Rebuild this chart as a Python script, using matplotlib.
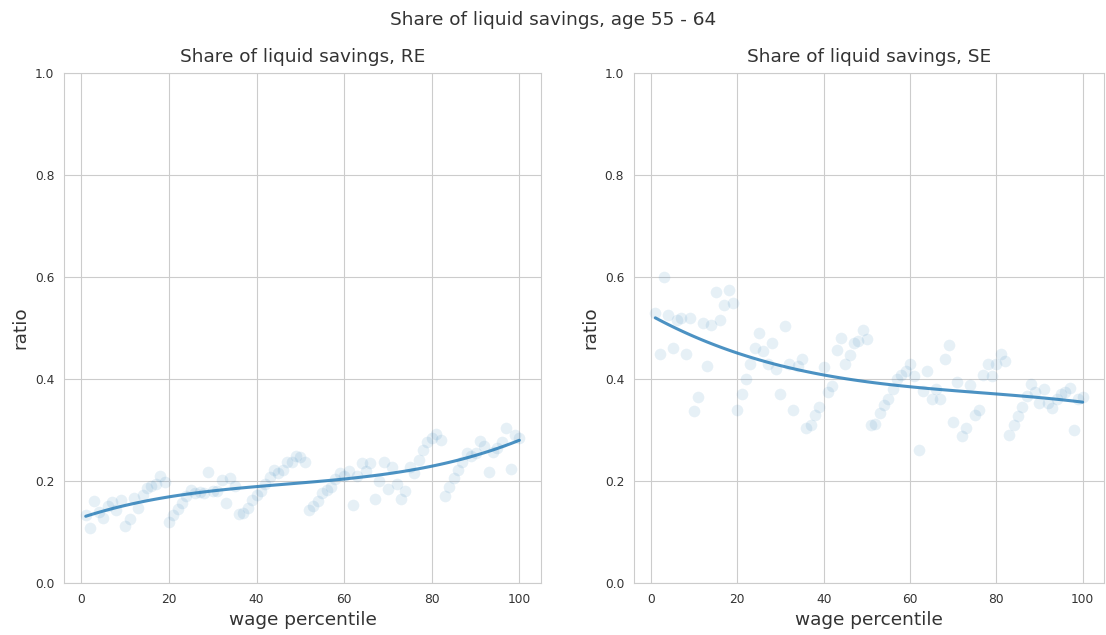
import numpy as np
import matplotlib
matplotlib.use("Agg")
import matplotlib.pyplot as plt
import seaborn as sns

percentile = np.arange(1, 101)

# share of liquid savings, RE
ratio_re = [
    0.133, 0.108, 0.160, 0.140, 0.128, 0.150, 0.159, 0.143, 0.163, 0.112,
    0.125, 0.166, 0.148, 0.173, 0.186, 0.190, 0.195, 0.210, 0.199, 0.120,
    0.133, 0.146, 0.157, 0.170, 0.182, 0.177, 0.178, 0.177, 0.218, 0.180,
    0.181, 0.202, 0.156, 0.205, 0.190, 0.135, 0.137, 0.148, 0.163, 0.172,
    0.181, 0.195, 0.208, 0.222, 0.215, 0.222, 0.237, 0.237, 0.249, 0.248,
    0.238, 0.143, 0.151, 0.161, 0.176, 0.182, 0.189, 0.203, 0.215, 0.210,
    0.220, 0.153, 0.210, 0.236, 0.220, 0.235, 0.165, 0.200, 0.238, 0.184,
    0.228, 0.195, 0.165, 0.181, 0.227, 0.215, 0.241, 0.261, 0.277, 0.285,
    0.293, 0.280, 0.171, 0.188, 0.205, 0.222, 0.238, 0.254, 0.250, 0.255,
    0.279, 0.269, 0.218, 0.257, 0.265, 0.276, 0.303, 0.223, 0.290, 0.284,
]

# share of liquid savings, SE
ratio_se = [
    0.530, 0.450, 0.600, 0.525, 0.460, 0.515, 0.520, 0.450, 0.520, 0.337,
    0.365, 0.510, 0.425, 0.505, 0.570, 0.515, 0.545, 0.575, 0.550, 0.340,
    0.370, 0.400, 0.430, 0.460, 0.490, 0.455, 0.430, 0.470, 0.420, 0.370,
    0.503, 0.430, 0.340, 0.425, 0.440, 0.303, 0.310, 0.330, 0.345, 0.423,
    0.375, 0.386, 0.457, 0.480, 0.430, 0.447, 0.471, 0.475, 0.497, 0.478,
    0.310, 0.312, 0.333, 0.350, 0.360, 0.380, 0.400, 0.408, 0.415, 0.430,
    0.405, 0.260, 0.377, 0.416, 0.360, 0.380, 0.360, 0.440, 0.467, 0.316,
    0.395, 0.288, 0.303, 0.388, 0.330, 0.340, 0.408, 0.430, 0.405, 0.430,
    0.450, 0.435, 0.290, 0.310, 0.327, 0.346, 0.367, 0.390, 0.375, 0.352,
    0.380, 0.352, 0.343, 0.360, 0.370, 0.375, 0.383, 0.300, 0.360, 0.365,
]

sns.set_style("whitegrid")
plt.rcParams["font.family"] = ["DejaVu Sans"]

fig = plt.figure(figsize=(11.06, 6.35), dpi=100)
ax1 = fig.add_axes([0.0579, 0.0819, 0.4313, 0.8031])
ax2 = fig.add_axes([0.5732, 0.0819, 0.4250, 0.8031])

panels = [(ax1, ratio_re, "Share of liquid savings, RE"),
          (ax2, ratio_se, "Share of liquid savings, SE")]

for ax, vals, title in panels:
    sns.regplot(x=percentile, y=np.array(vals), ax=ax, order=3, ci=None,
                color="#1f77b4",
                scatter_kws={"alpha": 0.11, "s": 70, "linewidths": 0},
                line_kws={"alpha": 0.8, "lw": 2.2})
    ax.set_ylim(0, 1)
    ax.set_xticks([0, 20, 40, 60, 80, 100])
    ax.set_title(title, fontsize=13.3, color=".2", pad=8)
    ax.set_xlabel("wage percentile", fontsize=13.3, color=".2", labelpad=4)
    ax.set_ylabel("ratio", fontsize=13.3, color=".2")
    ax.tick_params(labelsize=8.8, colors=".2")

fig.suptitle("Share of liquid savings, age 55 - 64", fontsize=13.3, color=".2", y=0.983)

fig.savefig("out.png", dpi=100)
